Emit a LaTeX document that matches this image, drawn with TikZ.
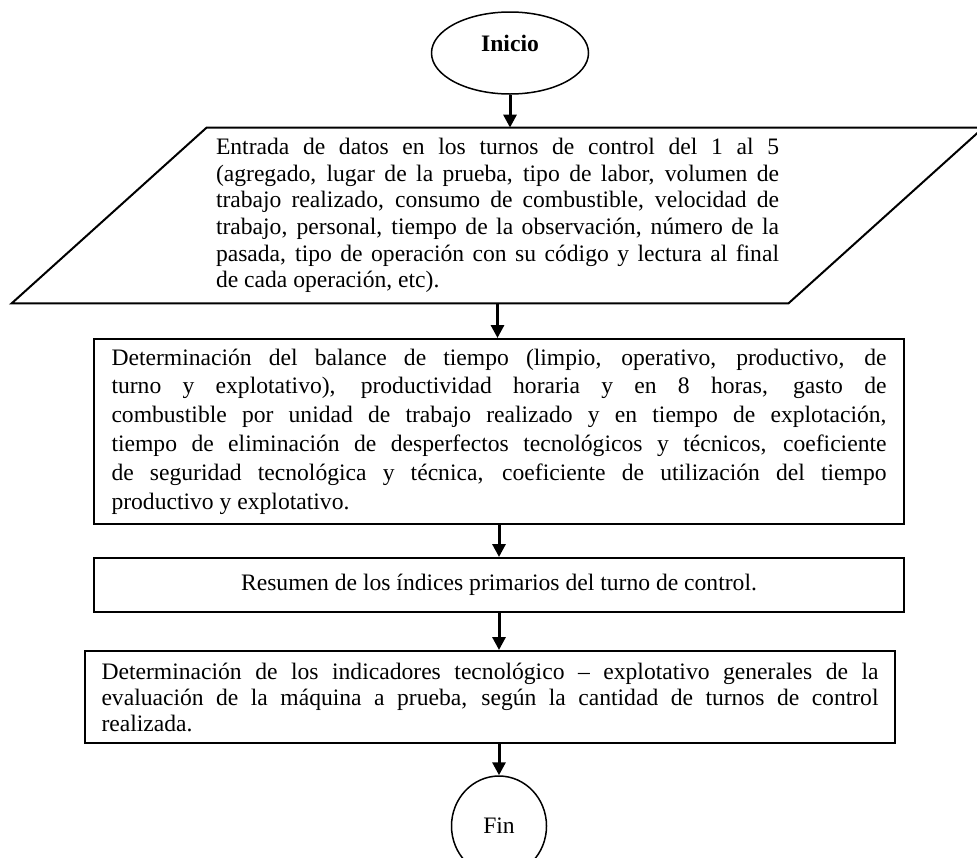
\documentclass[tikz,border=0pt]{standalone}
\usepackage{fontspec}
\setmainfont{Liberation Serif}
\usepackage{tikz}
\usetikzlibrary{shapes.geometric}
\usetikzlibrary{arrows.meta}

\begin{document}
\begin{tikzpicture}[x=1pt,y=-1pt,
  every node/.style={font=\fontsize{11.8pt}{14pt}\selectfont},
  terminal/.style={shape=ellipse,draw,line width=0.75pt,inner sep=0pt},
  caja/.style={shape=rectangle,draw,line width=1pt,inner sep=0pt,minimum width=405pt},
  flecha/.style={line width=1.5pt,-{Triangle[length=6.5pt,width=6.5pt]}}]
\useasboundingbox (0,0) rectangle (488.5,428.5);
\node (inicio) at (255,26.5) [terminal,minimum width=78.5pt,minimum height=41pt]{\raisebox{10pt}{\textbf{Inicio}}};
\node (datos) at (248.75,107.75) [minimum width=485.5pt,minimum height=87.5pt,inner sep=0pt,text width=281.5pt,align=justify,font=\fontsize{11.8pt}{13.3pt}\selectfont]
{\hyphenpenalty=10000 Entrada de datos en los turnos de control del 1 al 5\linebreak
(agregado, lugar de la prueba, tipo de labor, volumen de\linebreak
trabajo realizado, consumo de combustible, velocidad de\linebreak
trabajo, personal, tiempo de la observación, número de la\linebreak
pasada, tipo de operación con su código y lectura al final\linebreak
de cada operación, etc).};
\draw[line width=1pt] (datos.south west) -- ([xshift=-97.5pt]datos.south east) -- (datos.north east) -- ([xshift=97.5pt]datos.north west) -- cycle;
\node (balance) at (249.5,215.75) [caja,minimum height=92.5pt,text width=387.5pt,align=justify,font=\fontsize{11.8pt}{14.4pt}\selectfont]
{\hyphenpenalty=10000 Determinación del balance de tiempo (limpio, operativo, productivo, de\linebreak
turno y explotativo), productividad horaria y en 8 horas, gasto de\linebreak
combustible por unidad de trabajo realizado y en tiempo de explotación,\linebreak
tiempo de eliminación de desperfectos tecnológicos y técnicos, coeficiente\linebreak
de seguridad tecnológica y técnica, coeficiente de utilización del tiempo\linebreak
productivo y explotativo.};
\node (resumen) at (249.5,292.5) [caja,minimum height=27pt]{Resumen de los índices primarios del turno de control.};
\node (indic) at (245,348.5) [caja,minimum height=46pt,text width=388.5pt,align=justify,font=\fontsize{11.8pt}{13pt}\selectfont]
{\hyphenpenalty=10000 Determinación de los indicadores tecnológico – explotativo generales de la\linebreak
evaluación de la máquina a prueba, según la cantidad de turnos de control\linebreak
realizada.};
\node (fin) at (249.5,413) [terminal,minimum width=47.5pt,minimum height=50pt]{Fin};
\draw[flecha] (inicio.south) -- (inicio.south |- datos.north);
\draw[flecha] (datos.south) -- (datos.south |- balance.north);
\draw[flecha] (balance.south) -- (resumen.north);
\draw[flecha] (resumen.south) -- (resumen.south |- indic.north);
\draw[flecha] (fin.north |- indic.south) -- (fin.north);
\end{tikzpicture}
\end{document}
